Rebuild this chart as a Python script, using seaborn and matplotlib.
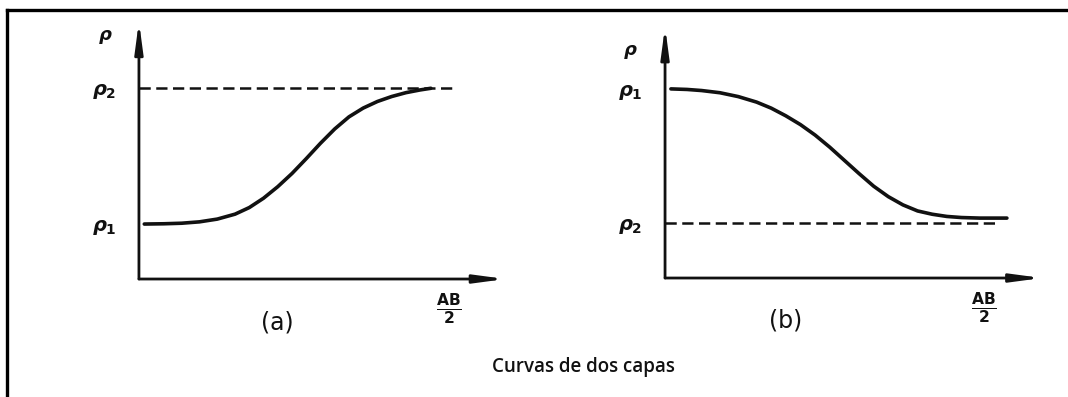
import matplotlib
matplotlib.use("Agg")
import matplotlib.pyplot as plt
from matplotlib.lines import Line2D
import pandas as pd
import seaborn as sns

# Apparent resistivity vs. half electrode spacing (AB/2), arbitrary units
# (a) rho1 < rho2 : rising two-layer curve
a_spacing = [0.15, 0.7, 1.2, 1.7, 2.2, 2.7, 3.1, 3.5, 3.9, 4.3,
             4.7, 5.1, 5.5, 5.9, 6.3, 6.7, 7.1, 7.5, 7.9, 8.2]
a_rho = [1.00, 1.005, 1.015, 1.04, 1.09, 1.18, 1.30, 1.47, 1.68, 1.92,
         2.19, 2.47, 2.73, 2.95, 3.11, 3.23, 3.32, 3.39, 3.44, 3.47]
a_rho1, a_rho2 = 1.0, 3.47
a_asym_end = 8.88

# (b) rho1 > rho2 : falling two-layer curve
b_spacing = [0.16, 0.6, 1.0, 1.5, 2.0, 2.5, 2.9, 3.3, 3.7, 4.1, 4.5,
             4.9, 5.3, 5.7, 6.1, 6.5, 6.9, 7.3, 7.7, 8.1, 8.6, 9.34]
b_rho = [3.44, 3.43, 3.41, 3.37, 3.30, 3.20, 3.09, 2.95, 2.79, 2.60, 2.38,
         2.14, 1.90, 1.67, 1.48, 1.33, 1.22, 1.16, 1.12, 1.10, 1.09, 1.09]
b_rho1, b_rho2 = 3.42, 1.0
b_asym_end = 9.10

panel_tags = ["(a)", "(b)"]
caption = "Curvas de dos capas"

sns.set_theme(style="white")
plt.rcParams["mathtext.fontset"] = "custom"
plt.rcParams["mathtext.rm"] = "DejaVu Sans:bold"
plt.rcParams["mathtext.it"] = "DejaVu Sans:italic:bold"
plt.rcParams["mathtext.bf"] = "DejaVu Sans:bold"

fig = plt.figure(figsize=(10.68, 3.97), dpi=100)
ax_a = fig.add_axes([0.1301, 0.2972, 0.3333, 0.6272])
ax_b = fig.add_axes([0.6227, 0.2997, 0.3427, 0.6121])

ink = "#111111"


def draw_panel(ax, spacing, rho, rho_top, rho_bottom, asym_rho, asym_end,
               ymax, tick_labels, tag, tag_x, top_label_y, x_tip, y_tip):
    df = pd.DataFrame({"AB/2": spacing, "rho": rho})
    sns.lineplot(data=df, x="AB/2", y="rho", ax=ax, color=ink, lw=2.6,
                 sort=False, legend=False)
    ax.hlines(asym_rho, 0, asym_end, colors=ink, lw=1.8,
              linestyles=(0, (4.5, 2.2)))
    ax.set_xlim(0, 10)
    ax.set_ylim(0, ymax)
    for s in ax.spines.values():
        s.set_visible(False)
    ax.set_xticks([])
    ax.set_yticks([rho_bottom, rho_top], labels=tick_labels)
    ax.tick_params(axis="y", length=0, pad=16, labelsize=14, colors=ink)
    ax.set_xlabel("")
    ax.set_ylabel("")
    # axis arrows
    arrow = dict(arrowstyle="-|>,head_length=1.8,head_width=0.24",
                 color=ink, lw=2.0, shrinkA=0, shrinkB=0, mutation_scale=10)
    ax.annotate("", xy=(x_tip, 0), xytext=(0, 0), xycoords="axes fraction",
                arrowprops=arrow, annotation_clip=False)
    ax.annotate("", xy=(0, y_tip), xytext=(0, 0), xycoords="axes fraction",
                arrowprops=arrow, annotation_clip=False)
    ax.text(-0.095, top_label_y, r"$\rho$", transform=ax.transAxes,
            ha="center", va="center", fontsize=13, color=ink)
    ax.text(0.87, -0.12, r"$\mathbf{\frac{AB}{2}}$", transform=ax.transAxes,
            ha="center", va="center", fontsize=16, color=ink)
    ax.text(tag_x, -0.175, tag, transform=ax.transAxes, ha="center",
            va="center", fontsize=17, color=ink)


draw_panel(ax_a, a_spacing, a_rho, a_rho2, a_rho1, a_rho2, a_asym_end, 4.53,
           [r"$\rho_1$", r"$\rho_2$"], panel_tags[0], 0.39, 0.97, 1.03, 1.035)
draw_panel(ax_b, b_spacing, b_rho, b_rho1, b_rho2, b_rho2, b_asym_end, 4.42,
           [r"$\rho_2$", r"$\rho_1$"], panel_tags[1], 0.33, 0.93, 1.03, 1.035)

fig.text(0.546, 0.075, caption, ha="center", va="center", fontsize=13.5,
         color=ink, fontweight="semibold", family="Open Sans")

# outer frame (left and top edges)
fig.add_artist(Line2D([0.0066, 0.0066], [0.0, 0.9748], transform=fig.transFigure,
                      color="black", lw=2.4, solid_capstyle="projecting"))
fig.add_artist(Line2D([0.0066, 1.0], [0.9748, 0.9748], transform=fig.transFigure,
                      color="black", lw=2.4, solid_capstyle="projecting"))

fig.savefig("out.png", dpi=100, facecolor="white")
